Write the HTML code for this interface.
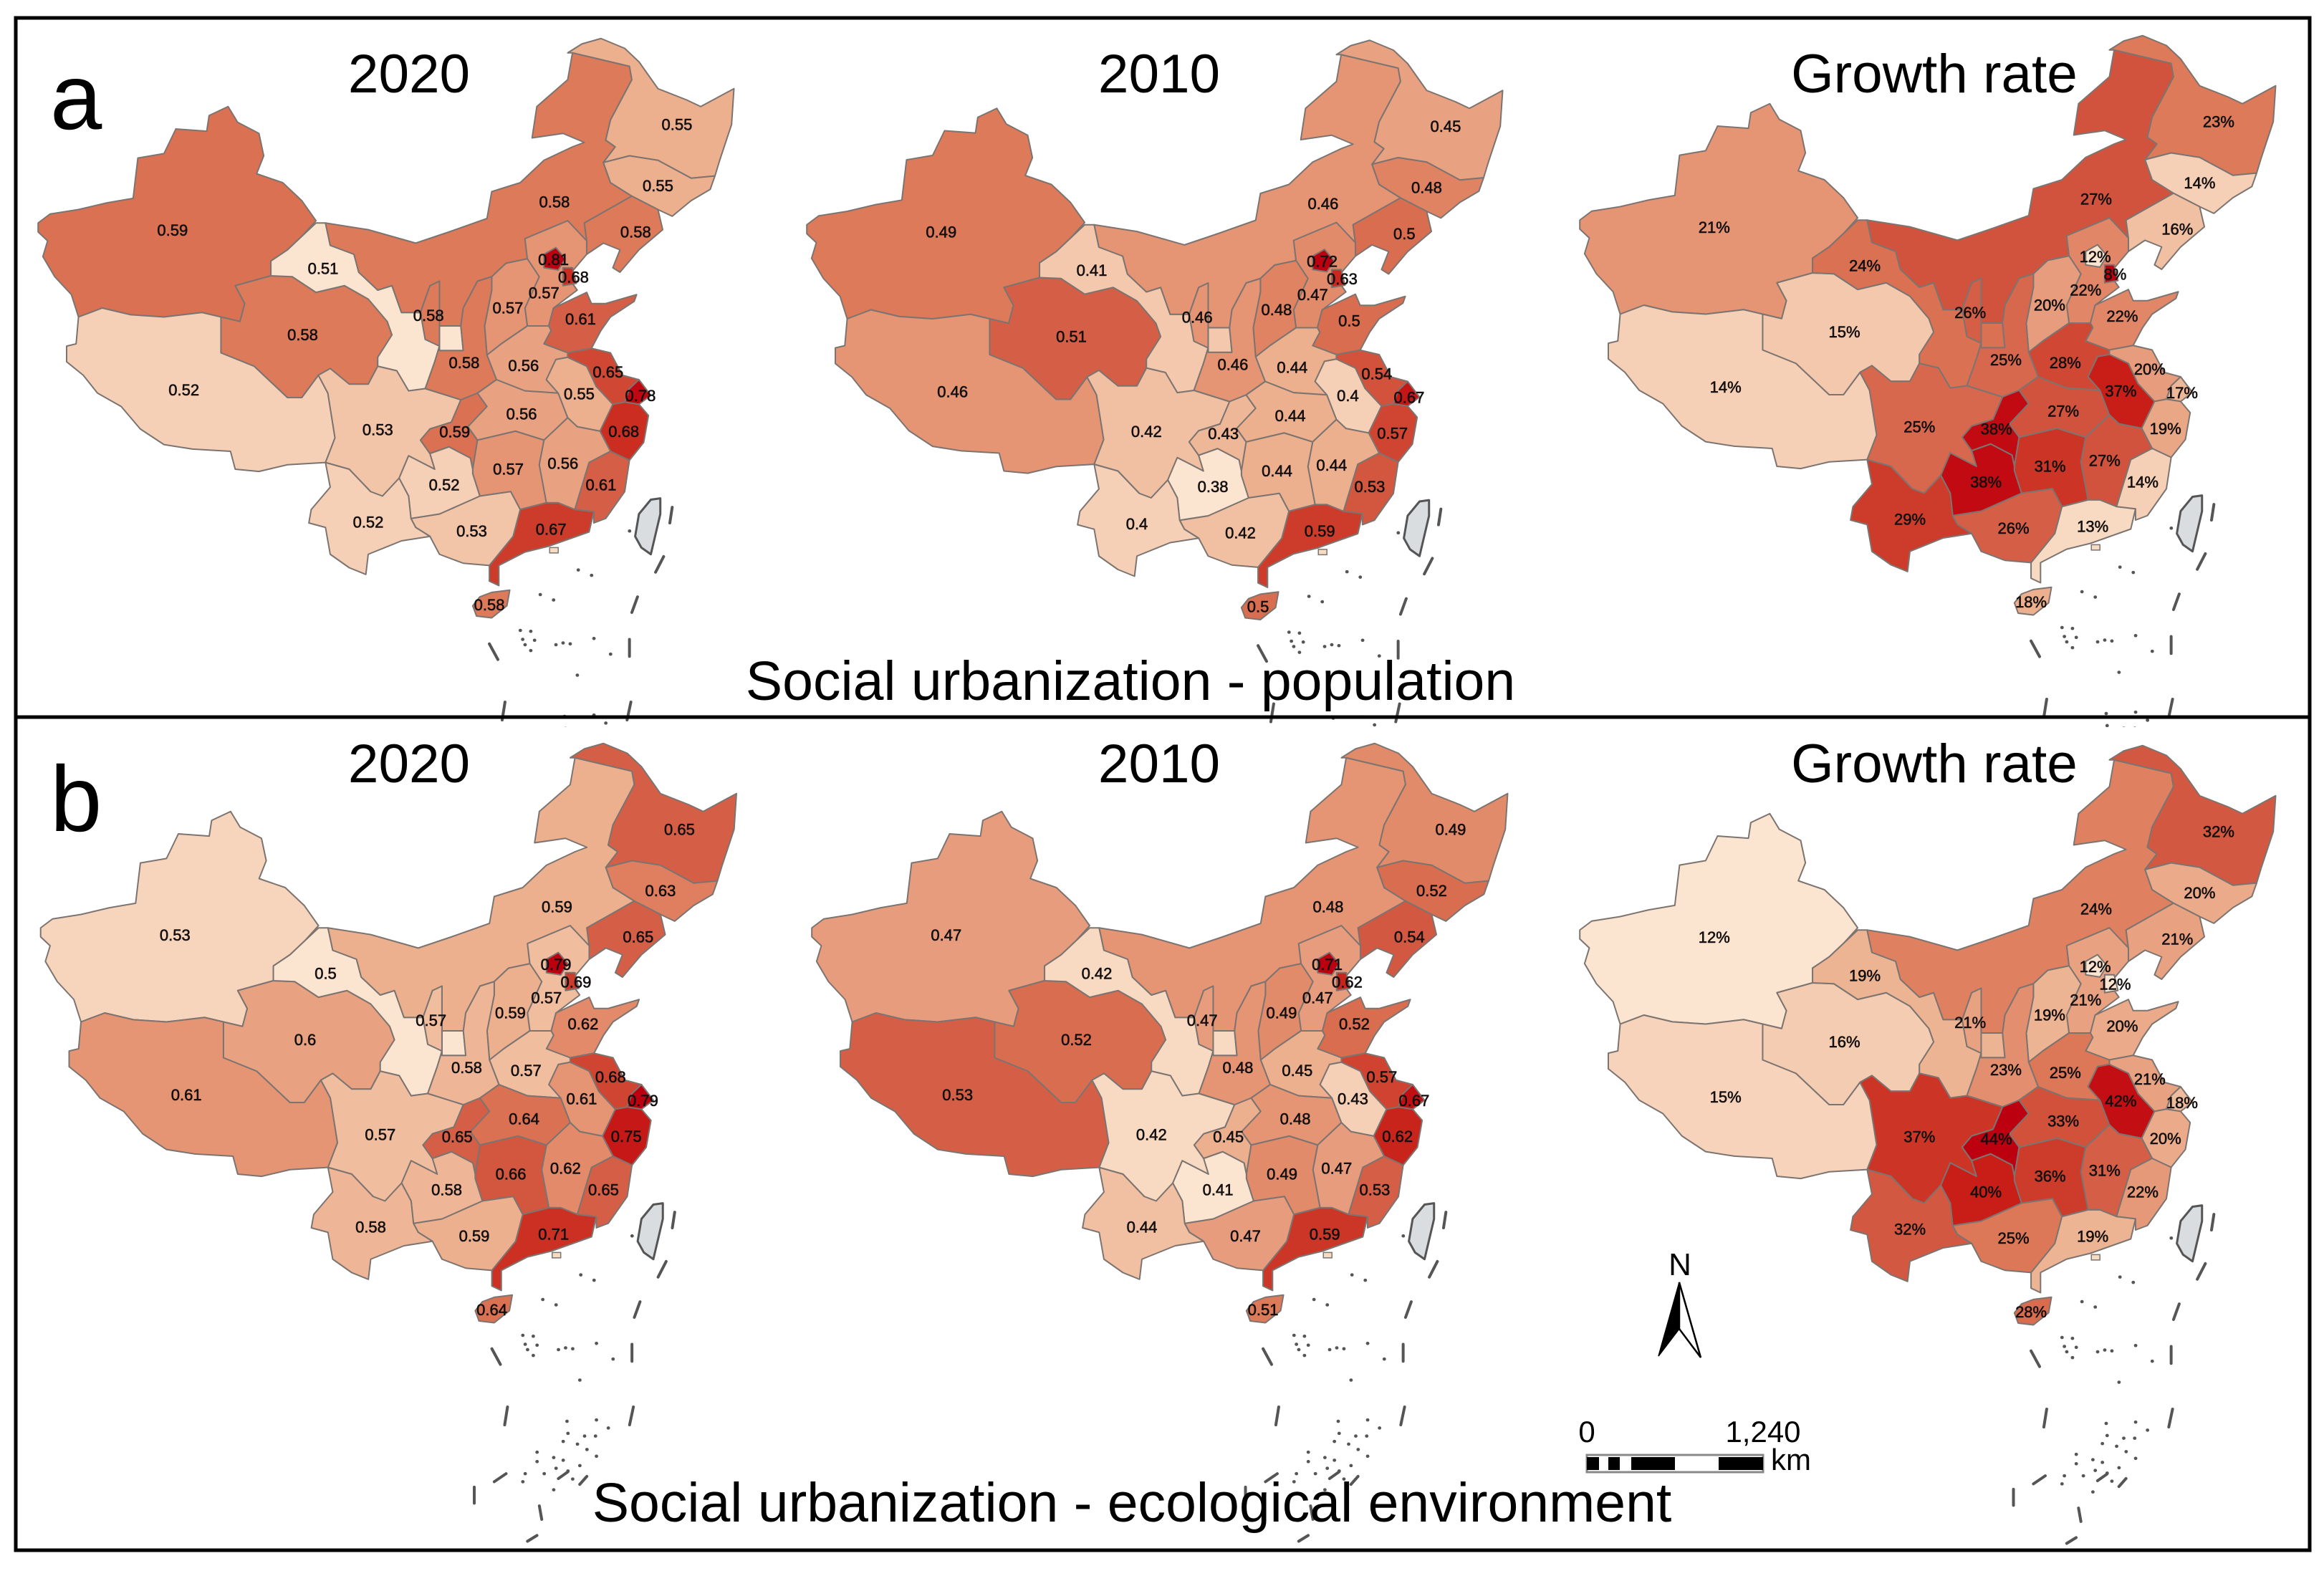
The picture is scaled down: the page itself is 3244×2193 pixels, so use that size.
<!DOCTYPE html>
<html lang="en">
<head>
<meta charset="utf-8">
<title>Social urbanization maps</title>
<style>
html,body{margin:0;padding:0;background:#fff;}
svg{display:block;}
text{font-family:"Liberation Sans",Arial,sans-serif;fill:#000;}
.lbl{font-size:22px;fill:#141010;stroke:#141010;stroke-width:.6px;text-anchor:middle;dominant-baseline:central;}
.ttl{font-size:76.5px;text-anchor:middle;}
.cap{font-size:77px;text-anchor:middle;}
.pl{font-size:130px;}
.sb{font-size:42px;}
</style>
</head>
<body>
<svg id="fig" xmlns="http://www.w3.org/2000/svg" width="3244" height="2193" viewBox="0 0 3244 2193">
<rect x="0" y="0" width="3244" height="2193" fill="#fff"/>
<defs>
<clipPath id="clipA"><rect x="24" y="28" width="3198" height="987"/></clipPath>
<clipPath id="clipB"><rect x="24" y="1004" width="3198" height="1158"/></clipPath>
</defs>
<g id="maps"></g>
<rect x="22" y="25" width="3202" height="2139" fill="none" stroke="#000" stroke-width="5"/>
<line x1="22" y1="1001" x2="3224" y2="1001" stroke="#000" stroke-width="5"/>
<text class="pl" x="70" y="180">a</text>
<text class="pl" x="70" y="1160">b</text>
<text class="ttl" x="571" y="129">2020</text>
<text class="ttl" x="1618" y="129">2010</text>
<text class="ttl" x="2700" y="129">Growth rate</text>
<text class="ttl" x="571" y="1092">2020</text>
<text class="ttl" x="1618" y="1092">2010</text>
<text class="ttl" x="2700" y="1092">Growth rate</text>
<text class="cap" x="1578" y="977">Social urbanization - population</text>
<text class="cap" x="1580" y="2124">Social urbanization - ecological environment</text>
<g>
<text x="2345" y="1780" text-anchor="middle" font-size="44">N</text>
<path d="M2344 1790 L2344 1855 L2315 1893 Z" fill="#000" stroke="#000" stroke-width="1.5"/>
<path d="M2344 1790 L2374 1895 L2344 1855 Z" fill="#fff" stroke="#000" stroke-width="2.5"/>
</g>
<g>
<text class="sb" x="2215" y="2013" text-anchor="middle">0</text>
<text class="sb" x="2461" y="2013" text-anchor="middle">1,240</text>
<text class="sb" x="2472" y="2052">km</text>
<rect x="2215" y="2031" width="246" height="24" fill="#fff" stroke="#888" stroke-width="3"/>
<rect x="2215" y="2034" width="17" height="18" fill="#000"/>
<rect x="2245" y="2034" width="16" height="18" fill="#000"/>
<rect x="2277" y="2034" width="61" height="18" fill="#000"/>
<rect x="2399" y="2034" width="62" height="18" fill="#000"/>
</g>
</svg>
<script>
const provinces = ['XJ','XZ','QH','GS','NM','HL','JL','LN','HE','BJ','TJ','SX','SD','HA','SN','NX','SC','CQ','HB','AH','JS','SH','ZJ','JX','FJ','HN','GD','GX','GZ','YN','HI'];

const valuesPopulation2020 = [.59,.52,.58,.51,.58,.55,.55,.58,.57,.81,.68,.57,.61,.56,.58,.58,.53,.59,.56,.55,.65,.78,.68,.56,.61,.57,.67,.53,.52,.52,.58];
const valuesPopulation2010 = [.49,.46,.51,.41,.46,.45,.48,.5,.47,.72,.63,.48,.5,.44,.46,.46,.42,.43,.44,.4,.54,.67,.57,.44,.53,.44,.59,.42,.38,.4,.5];
const valuesPopulationGrowth = [21,14,15,24,27,23,14,16,22,12,8,20,22,28,25,26,25,38,27,37,20,17,19,27,14,31,13,26,38,29,18];
const valuesEcology2020 = [.53,.61,.6,.5,.59,.65,.63,.65,.57,.79,.69,.59,.62,.57,.58,.57,.57,.65,.64,.61,.68,.79,.75,.62,.65,.66,.71,.59,.58,.58,.64];
const valuesEcology2010 = [.47,.53,.52,.42,.48,.49,.52,.54,.47,.71,.62,.49,.52,.45,.48,.47,.42,.45,.48,.43,.57,.67,.62,.47,.53,.49,.59,.47,.41,.44,.51];
const valuesEcologyGrowth = [12,15,16,19,24,32,20,21,21,12,12,19,20,25,23,21,37,44,33,42,21,18,20,31,22,36,19,25,40,32,28];

const colorRamp = ['#fbe4d0','#f5d0b6','#ecb08e','#e59474','#dd7a5a','#d55f46','#cd3c2b','#c81e17','#bd0010'];
const breaksPopulation2020 = [.51,.52,.55,.57,.58,.61,.67,.69,.81];
const breaksPopulation2010 = [.38,.40,.44,.46,.49,.51,.59,.65,.72];
const breaksPopulationGrowth = [12,14,18,21,23,26,29,37,38.5];
const breaksEcology2020 = [.5,.54,.59,.61,.635,.65,.69,.74,.79];
const breaksEcology2010 = [.41,.43,.45,.48,.51,.53,.58,.63,.71];
const breaksEcologyGrowth = [12,15.5,19.5,22.5,24.5,31,36,40,44];

/* Base-map geography (one shared outline per province), drawn once per panel */
const outlines = {
XJ:'35,450 60,430 120,420 180,405 235,395 245,305 300,295 325,240 390,245 395,210 435,190 455,225 500,250 510,300 495,340 550,360 590,400 620,445 590,480 560,510 525,535 525,568 450,590 470,630 460,670 420,660 380,650 300,660 230,655 170,640 120,660 105,610 70,570 45,525 55,490 35,470',
XZ:'120,660 170,640 230,655 300,660 380,650 420,660 420,740 490,770 560,840 590,840 625,790 645,830 660,930 640,985 560,990 500,1005 450,1000 440,960 360,955 300,945 250,910 210,860 160,830 130,790 95,760 95,725 115,720',
QH:'450,590 525,568 570,570 620,605 680,590 730,620 770,670 780,700 750,750 750,770 730,810 690,810 650,775 625,790 590,840 560,840 490,770 420,740 420,660 460,670 470,630',
GS:'640,450 650,500 700,520 710,560 750,600 780,590 800,650 840,650 850,710 880,725 870,760 850,820 815,825 790,780 750,770 750,750 780,700 770,670 730,620 680,590 620,605 570,570 525,568 525,535 560,510 590,480 620,450|880,680 925,680 930,735 880,735',
NM:'640,450 730,465 830,495 900,470 980,440 990,380 1050,360 1100,310 1160,280 1185,270 1140,250 1075,260 1085,190 1150,130 1160,70 1200,80 1280,100 1285,130 1240,220 1230,265 1250,280 1225,315 1240,360 1285,390 1185,450 1190,490 1150,445 1060,485 1065,530 1020,540 990,570 960,580 930,640 925,680 880,680 880,580 860,590 840,650 800,650 780,590 750,600 710,560 700,520 650,500',
HL:'1150,70 1180,50 1220,38 1270,60 1300,90 1340,150 1400,175 1430,190 1500,150 1495,230 1470,310 1460,345 1410,350 1340,310 1280,300 1225,315 1250,280 1230,265 1240,220 1285,130 1280,100 1200,80 1160,70',
JL:'1225,315 1280,300 1340,310 1410,350 1460,345 1450,375 1410,400 1370,435 1340,420 1285,390 1240,360',
LN:'1285,390 1340,420 1350,465 1300,510 1260,560 1245,550 1260,510 1225,495 1190,520 1190,490 1185,450',
HE:'1060,485 1150,445 1190,490 1190,520 1150,570 1170,600 1120,640 1110,680 1065,680 1060,640 1090,570 1065,530',
BJ:'1100,520 1125,505 1145,530 1130,555 1100,550',
TJ:'1140,550 1160,550 1168,585 1140,590',
SX:'1020,540 1065,530 1090,570 1060,640 1065,680 1010,720 980,745 975,680 990,600 990,570',
SD:'1110,680 1120,640 1190,605 1200,630 1230,630 1295,610 1290,625 1240,660 1220,690 1200,730 1150,740 1100,720 1115,690',
HA:'980,745 1010,720 1065,680 1110,680 1115,690 1100,720 1150,740 1150,750 1125,755 1105,800 1130,830 1060,825 1000,800',
SN:'960,580 990,570 990,600 975,680 980,745 1000,800 960,830 925,845 850,820 870,760 880,725 880,735 930,735 925,680 930,640',
NX:'860,590 880,580 880,680 880,725 850,710 840,650',
SC:'625,790 650,775 690,810 730,810 750,770 790,780 815,825 850,820 925,845 905,895 860,910 840,935 860,965 870,1000 815,970 795,1020 760,1060 735,1050 690,1000 640,985 660,930 645,830',
CQ:'925,845 960,830 980,860 940,905 960,935 950,1000 945,975 900,950 860,965 840,935 860,910 905,895',
HB:'960,830 1000,800 1060,825 1130,830 1150,885 1100,935 1040,915 960,935 940,905 980,860',
AH:'1125,755 1150,750 1190,770 1210,815 1245,855 1218,915 1170,905 1150,885 1130,830 1105,800',
JS:'1150,740 1200,730 1240,740 1265,790 1300,800 1280,820 1270,850 1245,855 1210,815 1190,770 1150,750',
SH:'1280,820 1300,800 1325,835 1300,855 1270,850',
ZJ:'1245,855 1270,850 1300,855 1320,880 1310,940 1280,980 1240,960 1218,915',
JX:'1100,935 1150,885 1170,905 1218,915 1240,960 1195,985 1165,1090 1130,1075 1105,1075 1090,990',
FJ:'1195,985 1240,960 1280,980 1270,1050 1230,1110 1205,1120 1205,1095 1165,1090',
HN:'960,935 1040,915 1100,935 1090,990 1105,1075 1050,1090 1030,1050 965,1060 950,1010 950,1000',
GD:'1050,1090 1105,1075 1130,1075 1165,1090 1205,1095 1195,1140 1110,1172 1060,1185 1005,1215 1005,1260 985,1250 985,1215 1035,1150',
GX:'820,1110 880,1100 965,1060 1030,1050 1050,1090 1035,1150 985,1215 930,1210 880,1190 860,1150 830,1130',
GZ:'795,1020 815,970 870,1000 860,965 900,950 945,975 950,1000 950,1010 965,1060 880,1100 820,1110 815,1060',
YN:'640,985 690,1000 735,1050 760,1060 795,1020 815,1060 820,1110 830,1130 860,1150 800,1160 730,1190 725,1235 690,1220 650,1190 640,1130 605,1120 610,1090 650,1040',
HI:'950,1305 965,1285 990,1275 1028,1270 1022,1305 990,1332 958,1328'
};
const labelAnchors = {XJ:[318,466],XZ:[342,823],QH:[592,700],GS:[635,552],NM:[1122,403],HL:[1380,230],JL:[1340,367],LN:[1293,470],HE:[1100,606],BJ:[1120,532],TJ:[1162,571],SX:[1024,640],SD:[1177,665],HA:[1057,769],SN:[932,762],NX:[857,657],SC:[750,912],CQ:[912,917],HB:[1053,877],AH:[1174,832],JS:[1235,783],SH:[1303,836],ZJ:[1268,916],JX:[1140,987],FJ:[1220,1035],HN:[1025,1000],GD:[1115,1134],GX:[948,1138],GZ:[890,1035],YN:[730,1118],HI:[985,1303]};
const taiwan = '1300,1100 1325,1068 1345,1065 1345,1100 1325,1190 1305,1175 1292,1150';
const hongKong = '1112,1175 1130,1175 1130,1187 1112,1187';
const islandDashes = [[1370,1085,1365,1120],[1352,1195,1335,1230],[1297,1285,1285,1320],[985,1390,1003,1425],[1280,1380,1280,1418],[1018,1520,1012,1560],[1283,1520,1275,1560],[1015,1669,990,1687],[1185,1675,1170,1693],[948,1699,948,1735],[1085,1741,1090,1771],[1080,1807,1060,1820],[1125,1680,1145,1665]];
const islandDots = [[1280,1138],[1172,1225],[1200,1237],[1120,1292],[1092,1280],[1050,1360],[1072,1362],[1055,1380],[1080,1382],[1060,1392],[1072,1405],[1125,1392],[1140,1388],[1155,1390],[1205,1378],[1240,1413],[1170,1460],[1143,1552],[1145,1579],[1205,1549],[1230,1567],[1203,1585],[1180,1585],[1135,1597],[1165,1603],[1185,1615],[1205,1630],[1080,1621],[1080,1642],[1115,1633],[1135,1639],[1170,1651],[1120,1657],[1095,1669],[1055,1669],[1050,1687],[1115,1705],[1145,1663],[1155,1681]];

/* Axis-like mapping from base-map coordinates to page pixels */
const mapScaleX = .663, mapScaleY = .625, mapOriginX = 30, mapOriginY = 30;
const panels = [
 {id:'a-2020',values:valuesPopulation2020,breaks:breaksPopulation2020,ramp:colorRamp,dx:0,dy:0,clip:'clipA',suffix:''},
 {id:'a-2010',values:valuesPopulation2010,breaks:breaksPopulation2010,ramp:colorRamp,dx:1073,dy:2.5,clip:'clipA',suffix:''},
 {id:'a-growth',values:valuesPopulationGrowth,breaks:[8].concat(breaksPopulationGrowth),ramp:['#bd0010'].concat(colorRamp),dx:2152,dy:-4,clip:'clipA',suffix:'%'},
 {id:'b-2020',values:valuesEcology2020,breaks:breaksEcology2020,ramp:colorRamp,dx:3.5,dy:984,clip:'clipB',suffix:''},
 {id:'b-2010',values:valuesEcology2010,breaks:breaksEcology2010,ramp:colorRamp,dx:1080,dy:984,clip:'clipB',suffix:''},
 {id:'b-growth',values:valuesEcologyGrowth,breaks:breaksEcologyGrowth,ramp:colorRamp,dx:2152,dy:987,clip:'clipB',suffix:'%'}
];

function hex2rgb(h){return [1,3,5].map(function(i){return parseInt(h.substr(i,2),16);});}
function colorFor(v,breaks,ramp){
  if(v<=breaks[0])return ramp[0];
  for(var i=1;i<breaks.length;i++){
    if(v<=breaks[i]){
      var t=(v-breaks[i-1])/(breaks[i]-breaks[i-1]);
      var a=hex2rgb(ramp[i-1]),b=hex2rgb(ramp[i]);
      return 'rgb('+a.map(function(c,k){return Math.round(c+(b[k]-c)*t);}).join(',')+')';
    }
  }
  return ramp[ramp.length-1];
}
function polyPath(s){
  return s.split('|').map(function(p){return 'M'+p.trim().split(/\s+/).join('L')+'Z';}).join('');
}
var NS='http://www.w3.org/2000/svg';
function mk(tag,parent,attrs){
  var e=document.createElementNS(NS,tag);
  for(var k in attrs)e.setAttribute(k,attrs[k]);
  parent.appendChild(e);
  return e;
}
var root=document.getElementById('maps');
panels.forEach(function(p){
  var clipG=mk('g',root,{'clip-path':'url(#'+p.clip+')'});
  
  
  var base=mk('g',clipG,{transform:'translate('+(mapOriginX+p.dx)+','+(mapOriginY+p.dy)+') scale('+mapScaleX+','+mapScaleY+')'});
  provinces.forEach(function(code,i){
    var el=mk('path',base,{d:polyPath(outlines[code]),fill:colorFor(p.values[i],p.breaks,p.ramp),stroke:'#7c7470','stroke-width':'2','stroke-linejoin':'round','vector-effect':'non-scaling-stroke'});
    
    
  });
  var hk=mk('path',base,{d:polyPath(hongKong),fill:'#f7dcc4',stroke:'#7c7470','stroke-width':'1.5','vector-effect':'non-scaling-stroke'});
  
  
  var tw=mk('path',base,{d:polyPath(taiwan),fill:'#dadde0',stroke:'#555','stroke-width':'3','stroke-linejoin':'round','vector-effect':'non-scaling-stroke'});
  
  
  var dashD=islandDashes.map(function(d){return 'M'+d[0]+' '+d[1]+'L'+d[2]+' '+d[3];}).join('');
  var dash=mk('path',base,{d:dashD,fill:'none',stroke:'#555','stroke-width':'4','stroke-linecap':'round','vector-effect':'non-scaling-stroke'});
  
  
  var dotD=islandDots.map(function(d){return 'M'+d[0]+' '+d[1]+'h.5';}).join('');
  var dots=mk('path',base,{d:dotD,fill:'none',stroke:'#555','stroke-width':'4.5','stroke-linecap':'round','vector-effect':'non-scaling-stroke'});
  
  
  var labels=mk('g',clipG,{});
  
  
  provinces.forEach(function(code,i){
    var a=labelAnchors[code];
    var t=mk('text',labels,{class:'lbl',x:(mapOriginX+p.dx+a[0]*mapScaleX).toFixed(1),y:(mapOriginY+p.dy+a[1]*mapScaleY).toFixed(1)});
    
    
    t.textContent=String(p.values[i])+p.suffix;
  });
});
</script>
</body>
</html>
